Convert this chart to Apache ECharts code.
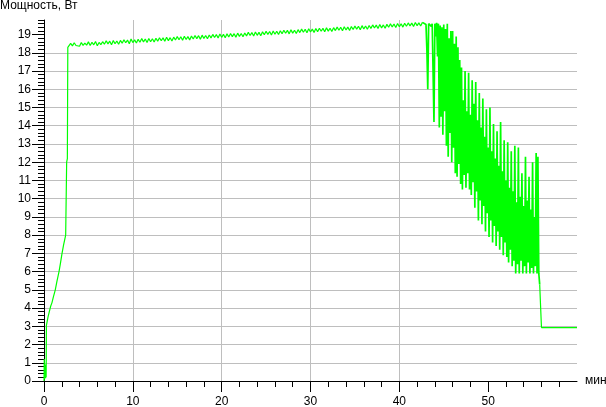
<!DOCTYPE html>
<html>
<head>
<meta charset="utf-8">
<script src="https://cdn.jsdelivr.net/npm/echarts@6/dist/echarts.min.js"></script>
<style>
html,body{margin:0;padding:0;background:#fff;}
#chart{width:606px;height:407px;}
</style>
</head>
<body>
<div id="chart"></div>
<script>
// ---- data (time in minutes, power in watts) ----
const yTitle = 'Мощность, Вт';
const xName = 'мин';
const xMajorTicks = [0, 10, 20, 30, 40, 50];
const yMajorTicks = [0,1,2,3,4,5,6,7,8,9,10,11,12,13,14,15,16,17,18,19];

// start-up: noise, ramp, jump to full power
const rampTime  = [0, 0.03, 0.06, 0.09, 0.12, 0.15, 0.18, 0.21, 0.24, 0.27, 0.30, 0.45, 0.60, 0.75, 0.90, 1.05, 1.27, 1.45, 1.69, 1.85, 2.03, 2.20, 2.44, 2.50, 2.55, 2.63, 2.68];
const rampPower = [0, 1.20, 0.10, 0.70, 0.20, 0.90, 0.15, 0.60, 0.20, 3.05, 3.10, 3.50, 3.80, 4.10, 4.30, 4.60, 5.00, 5.45, 6.00, 6.45, 7.00, 7.45, 8.00, 8.10, 12.00, 12.20, 18.30];

// steady plateau, sampled every 0.2 min from 2.8 min
const plateauStart = 2.8;
const plateauStep = 0.2;
const plateauPower = [
  18.30, 18.52, 18.38, 18.55, 18.40, 18.50, 18.36, 18.56, 18.41, 18.53,
  18.42, 18.60, 18.40, 18.58, 18.44, 18.62, 18.39, 18.57, 18.45, 18.61,
  18.47, 18.66, 18.49, 18.64, 18.44, 18.67, 18.50, 18.65, 18.47, 18.68,
  18.53, 18.72, 18.55, 18.70, 18.50, 18.76, 18.56, 18.71, 18.54, 18.74,
  18.58, 18.78, 18.60, 18.76, 18.57, 18.79, 18.61, 18.77, 18.59, 18.80,
  18.64, 18.83, 18.66, 18.82, 18.63, 18.85, 18.67, 18.83, 18.65, 18.86,
  18.70, 18.89, 18.72, 18.88, 18.69, 18.91, 18.73, 18.89, 18.71, 18.92,
  18.76, 18.95, 18.78, 18.94, 18.75, 18.97, 18.79, 18.95, 18.77, 18.98,
  18.82, 19.01, 18.84, 19.00, 18.81, 19.03, 18.85, 19.01, 18.83, 19.04,
  18.87, 19.06, 18.89, 19.05, 18.86, 19.08, 18.90, 19.06, 18.88, 19.09,
  18.93, 19.12, 18.95, 19.11, 18.92, 19.14, 18.96, 19.12, 18.94, 19.15,
  18.99, 19.18, 19.01, 19.17, 18.98, 19.20, 19.02, 19.18, 19.00, 19.21,
  19.05, 19.24, 19.07, 19.23, 19.04, 19.26, 19.08, 19.24, 19.06, 19.27,
  19.11, 19.30, 19.13, 19.29, 19.10, 19.32, 19.14, 19.30, 19.12, 19.33,
  19.16, 19.35, 19.18, 19.34, 19.15, 19.37, 19.19, 19.35, 19.17, 19.38,
  19.22, 19.41, 19.24, 19.40, 19.21, 19.43, 19.25, 19.41, 19.23, 19.44,
  19.28, 19.47, 19.30, 19.46, 19.27, 19.49, 19.31, 19.47, 19.29, 19.50,
  19.34, 19.53, 19.36, 19.52, 19.33, 19.55, 19.37, 19.53, 19.35, 19.56,
  19.40, 19.59, 19.42, 19.58, 19.39, 19.61, 19.43, 19.59, 19.41, 19.62,
  19.46, 19.64, 19.48, 19.63, 19.45, 19.66, 19.49, 19.64, 19.47, 19.67
];

// unstable phase, sampled every 0.1 min from 43.0 min
const dropStart = 43.0;
const dropStep = 0.1;
const dropPower = [
  19.55, 18.20, 16.00, 19.60, 19.50, 19.62, 19.45, 19.60, 19.50, 14.20,
  19.60, 18.90, 19.65, 17.80, 19.60, 13.90, 19.50, 14.50, 19.40, 13.50,
  19.55, 14.80, 19.30, 12.90, 19.60, 12.30, 18.80, 13.60, 19.20, 12.00,
  19.20, 12.80, 18.50, 11.40, 18.90, 11.20, 18.30, 11.90, 17.60, 10.80,
  17.20, 10.50, 15.40, 11.30, 17.00, 10.60, 14.80, 11.40, 16.90, 10.50,
  14.60, 10.20, 16.50, 10.90, 15.20, 9.50, 16.40, 10.40, 14.30, 8.80,
  15.80, 9.90, 13.90, 8.60, 15.50, 9.60, 13.40, 8.20, 14.90, 9.20,
  12.80, 7.90, 15.00, 8.80, 12.60, 7.60, 14.10, 8.50, 12.20, 7.40,
  13.70, 8.20, 11.80, 7.20, 14.20, 7.90, 11.50, 6.90, 13.20, 7.60,
  11.00, 6.80, 13.10, 6.50, 10.60, 7.20, 12.60, 6.30, 10.40, 6.60,
  12.90, 5.90, 9.80, 6.40, 12.80, 5.90, 10.10, 6.60, 11.40, 5.90,
  9.60, 6.30, 12.30, 5.90, 9.90, 6.50, 11.20, 5.90, 9.40, 6.20,
  12.00, 5.90, 9.00, 6.30, 12.50, 5.90, 12.30, 5.90, 5.30
];

// after the drop: low steady level
const tailTime  = [55.95, 56.00, 57.00, 57.05, 57.10, 57.60, 57.65, 58.70, 58.75, 60.00];
const tailPower = [5.30, 2.93, 2.93, 2.99, 2.93, 2.93, 2.99, 2.93, 2.99, 2.93];

// ---- build series from the arrays ----
const steadyData = [];
rampTime.forEach((t, i) => steadyData.push([t, rampPower[i]]));
plateauPower.forEach((w, i) => steadyData.push([+(plateauStart + i * plateauStep).toFixed(2), w]));

const dropData = [steadyData[steadyData.length - 1]];
dropPower.forEach((w, i) => dropData.push([+(dropStart + i * dropStep).toFixed(2), w]));

const tailData = [dropData[dropData.length - 1]];
tailTime.forEach((t, i) => tailData.push([t, tailPower[i]]));

const yMinorTicks = [];
for (let v = 0; v <= 19.81; v += 0.2) yMinorTicks.push(+v.toFixed(1));

const FONT = '"Liberation Sans", Arial, sans-serif';
const GREEN = '#00ff00';
function lineSeries(data, width) {
  return {
    type: 'line', data: data, showSymbol: false, symbol: 'none', sampling: null,
    lineStyle: {color: GREEN, width: width}, itemStyle: {color: GREEN}, z: 3
  };
}
const chart = echarts.init(document.getElementById('chart'), null, {renderer: 'canvas'});
chart.setOption({
  animation: false,
  backgroundColor: '#ffffff',
  title: {
    text: yTitle, left: 0, top: 0, padding: 0,
    textStyle: {fontSize: 12, fontWeight: 'normal', color: '#000', fontFamily: FONT}
  },
  grid: {left: 44, top: 20, right: 29, bottom: 26, containLabel: false, outerBoundsMode: 'none'},
  xAxis: [{
    type: 'value', min: 0, max: 60, interval: 10,
    name: xName, nameLocation: 'end', nameGap: 8,
    nameTextStyle: {fontSize: 12, color: '#000', fontFamily: FONT, verticalAlign: 'middle'},
    axisLine: {show: true, onZero: false, lineStyle: {color: '#000', width: 1}},
    axisTick: {show: true, customValues: xMajorTicks, length: 11, lineStyle: {color: '#000'}},
    minorTick: {show: true, splitNumber: 5, length: 6, lineStyle: {color: '#000'}},
    axisLabel: {customValues: xMajorTicks, margin: 15, fontSize: 12, color: '#000', fontFamily: FONT},
    splitLine: {show: true, showMinLine: false, showMaxLine: false, lineStyle: {color: '#bebebe', width: 1}}
  }],
  yAxis: [{
    type: 'value', min: 0, max: 19.8, interval: 1,
    axisLine: {show: true, onZero: false, lineStyle: {color: '#000', width: 1}},
    axisTick: {show: true, customValues: yMajorTicks, length: 12, lineStyle: {color: '#000'}},
    axisLabel: {customValues: yMajorTicks, margin: 13, fontSize: 12, color: '#000', fontFamily: FONT},
    splitLine: {show: true, showMinLine: false, showMaxLine: false, lineStyle: {color: '#bebebe', width: 1}}
  }, {
    type: 'value', min: 0, max: 19.8, position: 'left', offset: 0,
    axisLine: {show: false},
    axisTick: {show: true, customValues: yMinorTicks, length: 6, lineStyle: {color: '#000'}},
    axisLabel: {show: false},
    splitLine: {show: false}
  }],
  series: [
    lineSeries(steadyData, 1.2),
    lineSeries(dropData, 1.7),
    lineSeries(tailData, 1.2)
  ]
});
</script>
</body>
</html>
